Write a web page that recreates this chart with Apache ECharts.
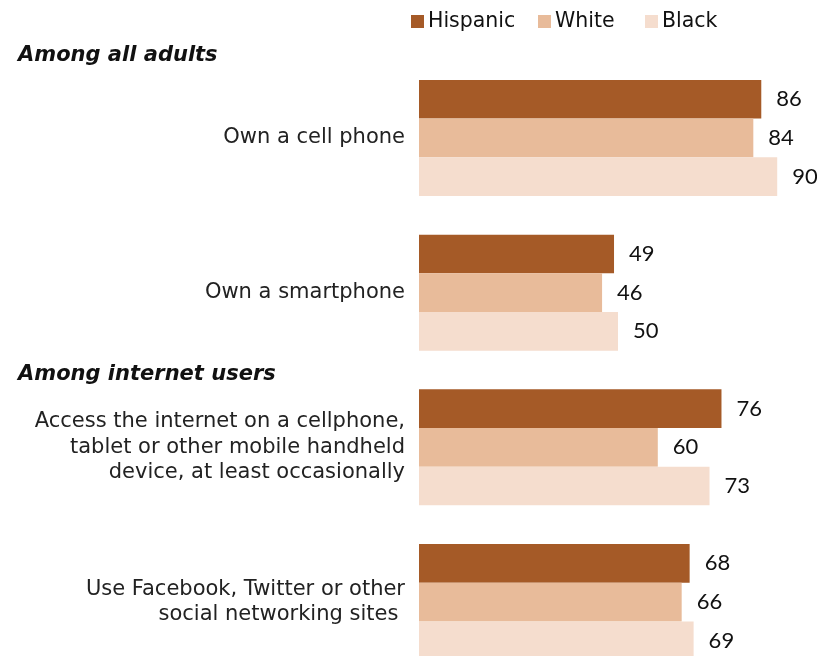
<!DOCTYPE html>
<html><head><meta charset="utf-8">
<script src="https://cdn.jsdelivr.net/npm/echarts@6/dist/echarts.min.js"></script>
<style>html,body{margin:0;padding:0;background:#fff}#c{width:817px;height:656px}</style>
</head><body><div id="c"></div>
<script>
const categories = [
  "Own a cell phone",
  "Own a smartphone",
  "Access the internet on a cellphone,\ntablet or other mobile handheld\ndevice, at least occasionally",
  "Use Facebook, Twitter or other\nsocial networking sites "
];
const seriesNames = ["Hispanic", "White", "Black"];
const hispanic = [86, 49, 76, 68];
const white = [84, 46, 60, 66];
const black = [90, 50, 73, 69];
const sectionHeaders = ["Among all adults", "Among internet users"];

const colors = ["#A55A27", "#E8BB9A", "#F5DDCE"];
const values = [hispanic, white, black];
const chart = echarts.init(document.getElementById('c'));
const legendX = [411, 538, 645];
chart.setOption({
  animation: false,
  grid: { left: 419, right: 0, top: 60.6, height: 618.8, containLabel: false, outerBoundsMode: 'none' },
  legend: seriesNames.map((n, i) => ({
    data: [n], left: legendX[i], top: 11, icon: 'rect', itemWidth: 13, itemHeight: 13,
    itemGap: 4, padding: 0,
    textStyle: { fontFamily: 'DejaVu Sans', fontSize: 20.5, color: '#111', padding: [0,0,0,-1] }
  })),
  xAxis: { type: 'value', min: 0, max: 100, show: false },
  yAxis: {
    type: 'category', data: categories, inverse: true,
    axisLine: { show: false }, axisTick: { show: false },
    axisLabel: { margin: 14, fontFamily: 'DejaVu Sans', fontSize: 21, color: '#222', lineHeight: 25.5, align: 'right' }
  },
  graphic: [
    { type: 'text', left: 18, top: 45, style: { text: sectionHeaders[0], font: 'italic bold 21px "DejaVu Sans"', fill: '#111' } },
    { type: 'text', left: 18, top: 364, style: { text: sectionHeaders[1], font: 'italic bold 21px "DejaVu Sans"', fill: '#111' } }
  ],
  series: seriesNames.map((n, i) => ({
    name: n, type: 'bar', data: values[i], barGap: '0%', barCategoryGap: '25%',
    itemStyle: { color: colors[i] },
    label: { show: true, position: 'right', distance: 15, fontFamily: 'Lato', fontSize: 22, color: '#111' }
  }))
});
</script></body></html>
